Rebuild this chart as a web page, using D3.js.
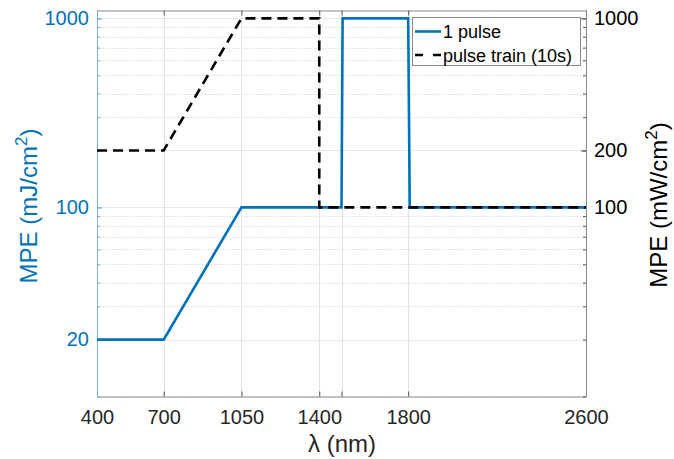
<!DOCTYPE html>
<html>
<head>
<meta charset="utf-8">
<script src="https://cdn.jsdelivr.net/npm/d3@7"></script>
<style>
  html, body { margin: 0; padding: 0; background: #fff; }
  svg { display: block; }
  svg text { font-family: "Liberation Sans", Arial, Helvetica, sans-serif; }
</style>
</head>
<body>
<svg id="chart" width="674" height="459"></svg>
<script>
// Wavelength axis ticks (1500 carries a tick and grid line but no label)
const xTickValues = [400, 700, 1050, 1400, 1500, 1800, 2600];
const xTickLabels = ["400", "700", "1050", "1400", "", "1800", "2600"];

// Left (single pulse, mJ/cm²) and right (10 s pulse train, mW/cm²) tick labels
const leftTicks = [20, 100, 1000];
const rightTicks = [100, 200, 1000];

// Single-pulse MPE vs wavelength
const pulseWavelength = [400, 700, 1050, 1500, 1505, 1800, 1807, 2600];
const pulseMPE = [20, 20, 100, 100, 1000, 1000, 100, 100];

// Pulse-train (10 s) MPE vs wavelength
const trainWavelength = [400, 700, 1050, 1400, 1400, 2600];
const trainMPE = [200, 200, 1000, 1000, 100, 100];

const seriesNames = ["1 pulse", "pulse train (10s)"];

const blue = "#0072BD";
const ink = "#262626";
const FONT = "'Liberation Sans', Arial, Helvetica, sans-serif";

const svg = d3.select("#chart");
const L = 97, R = 586, T = 10.5, B = 396.5;

const x = d3.scaleLinear().domain([400, 2600]).range([L, R]);
const yL = d3.scaleLog().domain([10, 1100]).range([B, T]);
const yR = d3.scaleLog().domain([10, 1100]).range([B, T]);

const minorY = yL.ticks().filter(v => v >= 10 && v <= 1100);

// grid
const grid = svg.append("g");
grid.selectAll("line.minor").data(minorY).join("line")
  .attr("x1", L).attr("x2", R)
  .attr("y1", d => Math.round(yL(d)) + 0.5).attr("y2", d => Math.round(yL(d)) + 0.5)
  .attr("stroke", "#dcdcdc").attr("stroke-width", 1).attr("stroke-dasharray", "1.5,1.5");
const majorY = Array.from(new Set(leftTicks.concat(rightTicks)));
grid.selectAll("line.majory").data(majorY).join("line")
  .attr("x1", L).attr("x2", R)
  .attr("y1", d => Math.round(yL(d)) + 0.5).attr("y2", d => Math.round(yL(d)) + 0.5)
  .attr("stroke", "#e2eaf0").attr("stroke-width", 1);
grid.selectAll("line.majorx").data(xTickValues).join("line")
  .attr("y1", T).attr("y2", B)
  .attr("x1", d => Math.round(x(d)) + 0.5).attr("x2", d => Math.round(x(d)) + 0.5)
  .attr("stroke", "#e3e3e3").attr("stroke-width", 1);

// axes
const axB = d3.axisBottom(x).tickValues(xTickValues).tickFormat((d, i) => xTickLabels[i])
  .tickSizeInner(-5).tickSizeOuter(0).tickPadding(13.5);
const gB = svg.append("g").attr("transform", `translate(0,${B})`).call(axB)
  .attr("font-family", FONT).attr("font-size", 20);
gB.select(".domain").attr("stroke", "#8a8a8a");
gB.selectAll(".tick line").attr("stroke", "#555");
gB.selectAll(".tick text").attr("fill", ink);

const axT = d3.axisTop(x).tickValues(xTickValues).tickFormat("").tickSizeInner(-5).tickSizeOuter(0);
const gT = svg.append("g").attr("transform", `translate(0,${T})`).call(axT);
gT.select(".domain").attr("stroke", "#8a8a8a");
gT.selectAll(".tick line").attr("stroke", "#555");

// left axis: minor ticks then labelled ticks
const gLm = svg.append("g").attr("transform", `translate(${L},0)`)
  .call(d3.axisLeft(yL).tickValues(minorY).tickFormat("").tickSizeInner(-3).tickSizeOuter(0));
gLm.select(".domain").attr("stroke", "#7ab3dc");
gLm.selectAll(".tick line").attr("stroke", "#6aa9d6");
const gL = svg.append("g").attr("transform", `translate(${L},0)`)
  .call(d3.axisLeft(yL).tickValues(leftTicks).tickFormat(d3.format("d")).tickSizeInner(-5).tickSizeOuter(0).tickPadding(8))
  .attr("font-family", FONT).attr("font-size", 20);
gL.select(".domain").remove();
gL.selectAll(".tick line").attr("stroke", "#6aa9d6");
gL.selectAll(".tick text").attr("fill", blue);

// right axis
const gRm = svg.append("g").attr("transform", `translate(${R},0)`)
  .call(d3.axisRight(yR).tickValues(minorY).tickFormat("").tickSizeInner(-3).tickSizeOuter(0));
gRm.select(".domain").attr("stroke", "#8a8a8a");
gRm.selectAll(".tick line").attr("stroke", "#555");
const gR = svg.append("g").attr("transform", `translate(${R},0)`)
  .call(d3.axisRight(yR).tickValues(rightTicks).tickFormat(d3.format("d")).tickSizeInner(-5).tickSizeOuter(0).tickPadding(8))
  .attr("font-family", FONT).attr("font-size", 20);
gR.select(".domain").remove();
gR.selectAll(".tick line").attr("stroke", "#555");
gR.selectAll(".tick text").attr("fill", "#000");

// series
const line1 = d3.line().x(d => x(d[0])).y(d => yL(d[1]));
const line2 = d3.line().x(d => x(d[0])).y(d => yR(d[1]));
svg.append("path").datum(d3.zip(pulseWavelength, pulseMPE))
  .attr("d", line1).attr("fill", "none").attr("stroke", blue).attr("stroke-width", 2.6)
  .attr("stroke-linejoin", "miter");
svg.append("path").datum(d3.zip(trainWavelength, trainMPE))
  .attr("d", line2).attr("fill", "none").attr("stroke", "#000").attr("stroke-width", 2.6)
  .attr("stroke-dasharray", "10,6");

// axis titles
svg.append("text").attr("transform", "translate(37,206) rotate(-90)")
  .attr("text-anchor", "middle").attr("fill", blue).attr("font-size", 24)
  .call(t => {
    t.append("tspan").text("MPE (mJ/cm");
    t.append("tspan").attr("dy", -10).attr("font-size", 17).text("2");
    t.append("tspan").attr("dy", 10).text(")");
  });
svg.append("text").attr("transform", "translate(667,205) rotate(-90)")
  .attr("text-anchor", "middle").attr("fill", "#000").attr("font-size", 24)
  .call(t => {
    t.append("tspan").text("MPE (mW/cm");
    t.append("tspan").attr("dy", -10).attr("font-size", 17).text("2");
    t.append("tspan").attr("dy", 10).text(")");
  });
svg.append("text").attr("x", 342).attr("y", 452).attr("text-anchor", "middle")
  .attr("fill", ink).attr("font-size", 24)
  .call(t => {
    t.append("tspan").text("λ");
    t.append("tspan").text(" (nm)");
  });

// legend
const lg = svg.append("g");
lg.append("rect").attr("x", 412.5).attr("y", 17.5).attr("width", 168).attr("height", 48)
  .attr("fill", "#fff").attr("stroke", "#8a8a8a").attr("stroke-width", 1);
const legendStyles = [
  { color: blue, dash: null },
  { color: "#000", dash: "8,10" }
];
seriesNames.forEach((name, i) => {
  const cy = 31.5 + i * 23.5;
  lg.append("line").attr("x1", 415).attr("x2", 441).attr("y1", cy).attr("y2", cy)
    .attr("stroke", legendStyles[i].color).attr("stroke-width", 2.6)
    .attr("stroke-dasharray", legendStyles[i].dash);
  lg.append("text").attr("x", 443).attr("y", cy + 6.5).attr("font-size", 18)
    .attr("fill", "#000").text(name);
});
</script>
</body>
</html>
